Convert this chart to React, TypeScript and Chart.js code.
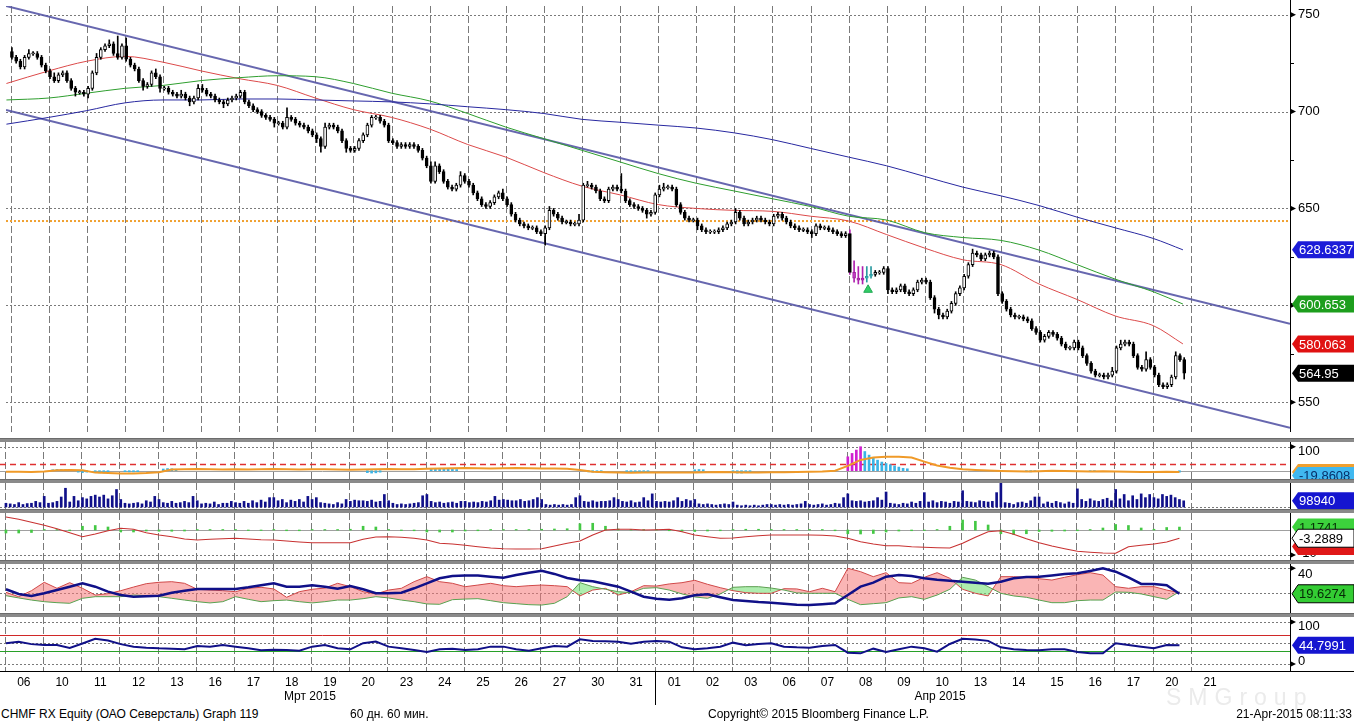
import React, { useEffect, useRef } from "react";
import { Chart, registerables } from "chart.js";
Chart.register(...registerables);

const W = 1354;
const H = 723;
const AXIS_W = 64;
const FONT = "'Liberation Sans', Arial, sans-serif";

// ---------- time axis ----------
const dayLabels = ["06","10","11","12","13","16","17","18","19","20","23","24","25","26","27","30","31","01","02","03","06","07","08","09","10","13","14","15","16","17","20","21"];
const monthLabels = ["Мрт 2015", "Апр 2015"];
const monthLabelBars = [71.8, 220];
const monthBoundaryDay = 17;
const BARS_PER_DAY = 9;
const BAR_CENTER = 0.3;
const X_MIN = -1.1;
const X_MAX = 302.3;
const SAMPLE_STEP = 3;

// ---------- hourly candles (CHMF RX) ----------
const firstOpen = 731;
const closes = [
  728, 726, 723, 728, 730, 730, 728, 724, 721,
  718, 716, 719, 720, 716, 712, 710, 710, 709,
  712, 720, 728, 732, 734, 735, 730, 728, 734,
  727, 724, 722, 716, 713, 714, 720, 718, 712,
  712, 710, 709, 708, 709, 707, 705, 707, 712,
  711, 709, 708, 706, 705, 704, 706, 707, 708,
  710, 705, 703, 701, 700, 698, 697, 696, 694,
  694, 692, 697, 696, 694, 693, 692, 690, 688,
  686, 682, 692, 693, 692, 690, 685, 681, 680,
  681, 685, 688, 693, 697, 697, 695, 693, 685,
  684, 682, 683, 682, 683, 682, 680, 676, 672,
  664, 672, 669, 664, 661, 660, 662, 667, 664,
  662, 658, 655, 652, 651, 653, 656, 658, 655,
  652, 647, 644, 642, 641, 640, 640, 638, 637,
  640, 649, 647, 645, 643, 643, 642, 642, 644,
  662, 662, 661, 659, 655, 654, 660, 661, 660,
  659, 654, 652, 651, 650, 649, 647, 648, 657,
  660, 661, 661, 660, 652, 648, 645, 644, 644,
  641, 639, 638, 638, 638, 639, 640, 642, 643,
  648, 645, 642, 643, 644, 645, 644, 643, 642,
  646, 647, 645, 643, 641, 640, 639, 639, 638,
  637, 641, 640, 640, 639, 638, 637, 636, 637,
  617, 614, 613, 614, 615, 616, 617, 617, 619,
  608, 607, 608, 610, 607, 606, 608, 612, 613,
  612, 604, 598, 595, 594, 597, 601, 606, 609,
  615, 621, 627, 626, 624, 626, 627, 625, 606,
  602, 598, 595, 594, 594, 593, 592, 588, 586,
  582, 584, 586, 585, 583, 580, 578, 578, 581,
  578, 574, 570, 566, 564, 564, 563, 564, 566,
  578, 580, 581, 580, 574, 568, 567, 572, 568,
  564, 559, 558, 559, 563, 574, 572, 564.95,
];
const wickUp = [
  2,1,1,1,2,1,1,1,1, 1,2,1,1,1,1,1,1,1, 1,1,2,1,1,2,1,9,1, 4,1,1,1,1,1,1,2,1,
  1,1,1,1,2,1,1,1,2, 2,1,1,1,1,1,1,1,1, 1,1,1,1,1,1,1,1,1, 1,1,5,1,1,1,1,1,1,
  1,1,2,1,1,1,1,1,1, 1,1,1,1,1,1,1,1,1, 1,1,1,1,1,1,1,1,1, 2,2,1,1,1,1,1,2,1,
  1,1,1,1,1,1,1,1,2, 1,1,1,1,1,1,1,1,1, 1,2,1,1,1,1,1,1,3, 1,2,1,1,1,1,1,1,1,
  8,1,1,1,1,1,1,1,1, 2,2,1,1,1,1,1,1,1, 1,1,1,1,1,1,1,1,1, 2,1,1,1,1,1,1,1,1,
  1,1,1,1,1,1,1,1,1, 1,1,1,1,1,1,1,1,1, 2,6,6,6,5,4,1,1,1, 1,1,1,1,1,1,1,1,1,
  1,1,1,1,1,1,1,1,1, 1,1,2,1,1,1,1,1,1, 1,1,1,1,1,1,1,1,1, 1,1,1,1,1,1,1,1,1,
  1,1,1,1,1,1,1,1,2, 1,2,1,1,1,1,1,4,1, 1,1,1,1,1,2,1,1,
];
const wickDn = [
  1,1,1,1,1,1,1,1,1, 1,1,1,1,1,1,2,1,1, 2,1,1,1,1,1,1,1,1, 1,1,1,1,2,1,1,1,2,
  1,1,1,1,1,1,2,1,1, 1,1,1,1,1,2,1,1,1, 1,1,1,1,1,1,1,1,2, 1,1,1,1,1,1,1,1,1,
  2,3,1,1,1,1,1,2,1, 1,1,1,1,1,1,1,1,1, 1,1,1,1,1,1,1,1,1, 1,1,1,1,1,1,1,1,1,
  1,1,1,1,1,1,1,1,1, 1,1,1,1,1,1,1,1,1, 6,1,1,1,1,1,1,1,1, 1,1,1,1,1,1,1,1,1,
  1,1,1,1,1,1,2,1,1, 1,1,1,1,1,1,1,1,1, 2,1,1,1,1,1,1,1,1, 1,1,1,1,1,1,1,1,1,
  1,1,1,1,1,1,1,1,1, 2,1,1,1,1,1,1,1,1, 1,2,2,2,2,1,1,1,1, 2,1,1,1,1,1,1,1,1,
  1,1,2,2,1,1,1,1,1, 1,1,1,1,1,1,1,1,1, 1,1,1,1,1,1,1,1,1, 1,1,1,1,1,1,1,1,1,
  1,1,1,1,1,1,1,1,1, 1,1,1,1,1,1,1,1,1, 1,1,1,1,1,1,1,3,
];
const magentaBars = [199, 200, 201];
const cyanBars = [202, 203];
const patternWickBar = 198;
const signalMarkerBar = 202.6;
const signalMarkerPrice = 608;

// ---------- overlays ----------
const maX = [-1, 9, 18, 27, 36, 45, 54, 63, 72, 81, 90, 99, 108, 117, 126, 135, 144, 153, 162, 171, 180, 189, 198, 207, 216, 225, 234, 243, 252, 261, 270, 277];
const maRed = [714.5, 721, 726, 728.5, 725.5, 721, 717, 713.5, 707, 701, 697, 691, 683, 676.5, 668.5, 661.5, 657, 652, 650, 649, 648.5, 646, 643.5, 636.5, 629.5, 623.5, 621, 611, 603, 594.5, 589.5, 580.063];
const maGreen = [706, 707, 709.5, 712, 713.5, 716, 717.5, 718.5, 718, 714.5, 709.5, 705.5, 699, 692, 686, 680, 674, 668, 663, 659, 655, 651, 646, 644, 637.5, 635, 633.5, 628.5, 621, 613.5, 607, 600.653];
const maBlue = [693.5, 697, 700.5, 704.5, 706, 706, 706.5, 706.5, 706, 705.5, 705, 704, 702.5, 701, 699, 696, 694.5, 693, 691.5, 689, 685.5, 681, 676.5, 672, 666.5, 661, 656.5, 651.5, 645.5, 640, 634.5, 628.6337];
const channelX = [X_MIN, X_MAX];
const channelUpper = [754.5, 590.5];
const channelLower = [700.8, 536.8];
const resistanceLevel = 643.5;
const priceTicks = [750, 700, 650, 600, 550];
const priceMinorTicks = [725, 675, 625, 575];

// ---------- oscillator panel ----------
const p2Osc = [-4, -4, -5, -3, 2, 3, 2, -8, -10, -12, -12, -10, -6,
  5, 6, 7, 6, 5, 6, 5, 6, 7, 6, 5, 6, 6, 5, 4, 5, 6, 7, 6, 6, 8, 9,
  10, 11, 10, 9, 10, 11, 10, 9, 9, 8,
  3, -4, -6, -8, -9, -8, -8, -7, -8, -7, -6, -5, -6, -7, -7, -6, -6, -5, -4, -3, 0,
  20, 45, 55, 58, 58, 55, 38,
  22, 12, 6, 3, 1, -1, -2, -3, -2, 0, -1, -2, -3, -2, -3, -4, -5, -5, -4, -5];
const p2HistBars = [11,12,13,14, 17,18,19, 21,22,23,24, 28,29,30,31, 37,38,39,40, 85,86,87,88, 100,101,102,103,104,105,106, 137,138,139,140, 146,147,148,149,150,151, 162,163,164, 171,172,173,174,175, 198,199,200,201,202,203,204,205,206,207,208,209,210,211,212, 240,241,242, 255,256, 276];
const p2HistVals = [4,5,5,4, -6,-8,-6, -7,-9,-9,-7, -4,-5,-5,-4, 7,9,8,6, -8,-10,-9,-6, 8,10,10,9,7,6,5, -5,-6,-6,-4, -5,-6,-6,-5,-4,-5, 4,5,4, -8,-10,-10,-8,-6, 58,72,86,100,80,65,52,44,36,30,25,20,15,10,8, -4,-5,-4, -3,-4, -6];
const p2MagentaBars = [198, 199, 200, 201];

// ---------- volume (thousands) ----------
const volumes = [
  60,50,40,70,40,55,60,90,70, 170,60,70,90,160,300,80,170,100, 150,130,170,190,160,190,130,180,280,
  120,60,50,60,70,50,100,80,170, 120,70,60,90,60,70,90,70,170, 100,50,60,50,80,40,60,60,90,
  70,60,90,60,100,70,110,80,150, 150,100,120,70,110,90,120,80,170, 120,150,70,60,50,40,70,50,120,
  90,110,100,100,90,110,80,90,200, 100,60,40,50,40,50,60,70,180, 200,90,70,80,60,70,80,60,90,
  90,70,80,70,90,80,100,170,110, 120,110,100,100,120,90,100,120,150, 120,40,30,40,30,40,30,40,150,
  180,90,80,100,80,90,90,100,150, 120,90,80,100,70,80,150,100,210, 90,80,90,80,100,150,90,120,100,
  120,50,40,50,40,30,40,50,40, 80,30,20,30,20,30,20,30,40, 40,30,40,30,40,30,40,50,90,
  40,30,40,50,30,40,60,50,150, 210,100,90,100,80,90,100,150,110, 240,60,50,40,60,50,80,60,90,
  230,80,100,70,90,80,60,90,80, 260,90,80,70,100,90,80,90,230, 400,70,60,40,70,80,60,100,160,
  160,50,80,60,90,70,50,80,60, 290,120,90,130,100,90,120,140,100, 280,130,200,100,180,120,210,150,200,
  150,130,200,170,190,150,120,98.94,
];

// ---------- MACD ----------
const macdLine = [5.2, 4.3, 3.1, 1.9, 0.5, -1.1, -2.7, -1.6, -0.3, 0.7, 0.3, -1.1, -2, -2.7, -3.6, -4, -3.7, -3.5, -3.3, -3.6, -3.9, -4, -4.4, -4.8, -5.1, -5.1, -5.1, -5.1, -3.7, -2.8, -2.7, -2.9, -3.3, -4, -5.3,
  -5.6, -6.1, -6.7, -7.2, -7.5, -7.6, -7.6, -7.5, -6.4, -5.3, -4.4, -2, 0, 0.3, 0.3, 0, 0.1, 0.3, -0.7, -2, -2.7, -3.3, -3.2, -2.7, -2.3, -2, -2, -2, -2, -2.1, -2.4, -3.3, -4.7, -5.6, -6.3,
  -6.3, -6.7, -6.9, -7.1, -7.2, -5.3, -2.9, -0.7, -0.3, -1.7, -3.5, -5.1, -6.4, -7.5, -8.5, -8.9, -9.2, -9.3, -6.7, -6.1, -5.6, -4.8, -3.29];
const macdHist = [-1.2, -1.2, -1, 0.2, 0.2, -0.3, 1.5, 1.8, 1.2, -0.8, -0.8, -0.4, -0.5, -0.5, -0.4, 0.2, 0.2, 0.2, 0.2, -0.2, -0.2, 0.2, -0.3, -0.3, 0.2, 0.2, 0.2, 0.3, 1.5, 1.2, 0.2, -0.2, -0.3, -0.8, -0.8,
  -0.8, -0.4, -0.3, 0.2, 0.2, 0.2, 0.2, 0.3, 0.4, 0.5, 2.5, 2.7, 1.5, 0.4, 0.2, 0.2, 0.2, -0.3, -0.5, -0.6, -0.4, -0.3, 0.2, 0.3, 0.3, 0.2, 0.2, 0.2, 0.2, 0.2, -0.3, -1.5, -1.6, -1.4, -0.8,
  -0.4, -0.3, -0.2, 0.2, 1.5, 4, 3.5, 2, -1.5, -1.8, -1.5, -0.6, -0.5, -0.4, -0.3, 0.2, 0.8, 2.2, 1.8, 0.8, 0.3, 1, 1.1741];

// ---------- DMI / ADX ----------
const diPlus = [20.8, 17.3, 22.1, 28.8, 24, 28.5, 24, 18.6, 19.7, 22.1, 25, 27.7, 28.8, 29.3, 28, 23.2, 22.6, 22.1, 21.3, 24, 24.8, 23.5, 16.8, 21.3, 23.2, 24.2, 28, 25.3, 21.3, 19.5, 22.6, 24, 29.3, 33.3, 29.3,
  28, 25.3, 26.6, 28, 26.1, 25.3, 26.1, 26.6, 26.1, 25.3, 17.9, 22.6, 24, 18.6, 21.3, 26.1, 25.8, 27.5, 28.5, 30.4, 27.2, 24.5, 22.1, 20.5, 20, 20, 23.7, 23.5, 21.3, 24, 21.3, 40, 37.3, 33.3, 36.5,
  28.5, 28, 32.8, 36.5, 32, 23.2, 20, 17.9, 33.3, 33.3, 32.8, 31.7, 30.6, 32.8, 34.9, 36.5, 34.6, 25.3, 24, 25.3, 25.3, 22.6, 20.5];
const diMinus = [18.1, 16.3, 14.6, 13.3, 12.5, 12, 16, 17.3, 17.3, 17.3, 18.6, 18.1, 17.3, 16, 14.6, 13.3, 12.3, 13.3, 17.3, 15.2, 13.3, 14.1, 14.6, 13.3, 12.3, 13.3, 14.6, 14.6, 15.7, 17.3, 16.3, 14.6, 13.3, 11.5, 11.2,
  14.9, 15.4, 15.7, 14.1, 12.5, 11.7, 10.9, 10.6, 12, 17.3, 28.5, 25.3, 23.2, 21.3, 20.5, 24, 24.5, 22.6, 19.5, 17.1, 16, 19.5, 24.8, 25.3, 25.3, 24.2, 22.6, 20.3, 20, 20, 20, 15.2, 10.9, 11.7, 12.5,
  16.3, 17.3, 15.2, 18.6, 23.2, 32.8, 30.6, 25.3, 20, 17.9, 16.8, 14.6, 12.5, 12.5, 14.1, 14.6, 14.6, 21, 20.8, 19.5, 17.3, 15.2, 21.3];
const adx = [23.2, 19.5, 17.9, 20, 22.6, 25.3, 28, 25.3, 21.3, 18.6, 17.3, 17.6, 18.1, 20.5, 22.1, 23.5, 23.5, 23.5, 23.5, 24.8, 26.4, 28, 25.3, 25.3, 26.4, 25.3, 23.7, 25.8, 23.2, 20, 20, 20.5, 24, 28, 32,
  33.8, 34.3, 34.3, 33.3, 32.5, 34.6, 36.5, 38.1, 35.5, 32.3, 30.4, 29.6, 27.5, 25.3, 21.3, 17.3, 15.7, 14.9, 16, 18.4, 19.2, 16.8, 14.6, 13.8, 13, 12.5, 11.7, 10.9, 10.6, 11.2, 12, 18.6, 25.3, 28.5, 33.3,
  34.6, 33.8, 32, 30.9, 30.1, 29.3, 28.5, 27.7, 29.3, 32, 33, 33.3, 34.3, 35.5, 36, 37.9, 40, 37.3, 32.8, 27.5, 27.5, 26.4, 19.6274];

// ---------- RSI ----------
const rsi = [49.6, 52.8, 47.3, 45.2, 45.2, 38.1, 48.8, 59.9, 55.9, 47.3, 41.3, 38.9, 37.3, 36.5, 34.9, 42.9, 41.3, 45.2, 41.3, 37.3, 32.5, 34.1, 33.3, 31.7, 41.3, 45.2, 37.3, 34.9, 49.6, 53.6, 41.3, 37.3, 33.3, 28.6, 34.9,
  36.5, 33.3, 34.9, 41.3, 41.3, 34.9, 31.7, 37.3, 42.9, 41.3, 58.7, 54.8, 54, 53.2, 48.4, 53.2, 54.8, 53.2, 39.7, 34.9, 37.3, 41.3, 50.8, 44.4, 47.6, 49.2, 41.3, 39.7, 38.9, 42.9, 45.2, 27, 25.4, 36.5, 28.6,
  34.9, 41.3, 37.3, 29.4, 47.6, 59.9, 58.3, 55.1, 39.7, 34.9, 33.3, 32.5, 34.9, 34.9, 28.6, 25.4, 25.4, 49.2, 45.2, 41.3, 37.3, 45.2, 44.7991];

// ---------- helpers ----------
const opens = closes.map((_, i) => (i === 0 ? firstOpen : closes[i - 1]));
const barX = (i: number) => i + BAR_CENTER;
const sampleSeries = (vals: number[]) => vals.map((y, k) => ({ x: k * SAMPLE_STEP + BAR_CENTER, y }));

type HLine = { v: number; color: string; dash?: number[]; width?: number };
type TickSpec = { v: number; label: string; dy?: number };
type Tag = { v: number; text: string; bg: string; fg: string; border?: string; h?: number };
type Spec = { hlines: HLine[]; ticks: TickSpec[]; minor?: number[]; tags: Tag[]; timeAxis?: boolean };

const DOT = [2, 2];
const GRID = "#7a7a7a";

function decorPlugin(spec: Spec) {
  return {
    id: "decor",
    beforeDatasetsDraw(chart: any) {
      const { ctx, chartArea: a, scales } = chart;
      const x = scales.x, y = scales.y;
      ctx.save();
      ctx.beginPath();
      ctx.rect(a.left, a.top, a.right - a.left, a.bottom - a.top);
      ctx.clip();
      ctx.lineWidth = 1;
      ctx.strokeStyle = GRID;
      ctx.setLineDash([7, 3]);
      for (let d = 0; d < dayLabels.length; d++) {
        const px = Math.round(x.getPixelForValue(d * BARS_PER_DAY)) + 0.5;
        ctx.beginPath();
        ctx.moveTo(px, a.top);
        ctx.lineTo(px, a.bottom);
        ctx.stroke();
      }
      for (const h of spec.hlines) {
        const py = Math.round(y.getPixelForValue(h.v)) + 0.5;
        ctx.strokeStyle = h.color;
        ctx.lineWidth = h.width ?? 1;
        ctx.setLineDash(h.dash ?? []);
        ctx.beginPath();
        ctx.moveTo(a.left, py);
        ctx.lineTo(a.right, py);
        ctx.stroke();
      }
      ctx.restore();
    },
    afterDraw(chart: any) {
      const { ctx, chartArea: a, scales } = chart;
      const x = scales.x, y = scales.y;
      const R = a.right;
      ctx.save();
      ctx.setLineDash([]);
      ctx.strokeStyle = "#000";
      ctx.lineWidth = 1;
      ctx.beginPath();
      ctx.moveTo(R + 0.5, 0);
      ctx.lineTo(R + 0.5, a.bottom);
      ctx.stroke();
      for (const v of spec.minor ?? []) {
        const py = Math.round(y.getPixelForValue(v)) + 0.5;
        ctx.beginPath();
        ctx.moveTo(R, py);
        ctx.lineTo(R + 4, py);
        ctx.stroke();
      }
      ctx.font = `13px ${FONT}`;
      ctx.textBaseline = "middle";
      ctx.textAlign = "left";
      ctx.fillStyle = "#000";
      for (const t of spec.ticks) {
        const py = y.getPixelForValue(t.v);
        ctx.beginPath();
        ctx.moveTo(R, py - 3);
        ctx.lineTo(R + 6, py);
        ctx.lineTo(R, py + 3);
        ctx.closePath();
        ctx.fill();
        ctx.fillText(t.label, R + 8, py + (t.dy ?? 0));
      }
      for (const g of spec.tags) {
        const py = y.getPixelForValue(g.v);
        const hh = (g.h ?? 17) / 2;
        ctx.beginPath();
        ctx.moveTo(R + 2, py);
        ctx.lineTo(R + 8, py - hh);
        ctx.lineTo(chart.width, py - hh);
        ctx.lineTo(chart.width, py + hh);
        ctx.lineTo(R + 8, py + hh);
        ctx.closePath();
        ctx.fillStyle = g.bg;
        ctx.fill();
        if (g.border) {
          ctx.strokeStyle = g.border;
          ctx.lineWidth = 1;
          ctx.stroke();
        }
        ctx.fillStyle = g.fg;
        ctx.fillText(g.text, R + 9, py + 1);
      }
      if (spec.timeAxis) {
        ctx.strokeStyle = "#000";
        ctx.beginPath();
        ctx.moveTo(0, a.bottom + 0.5);
        ctx.lineTo(chart.width, a.bottom + 0.5);
        ctx.stroke();
        const bx = Math.round(x.getPixelForValue(monthBoundaryDay * BARS_PER_DAY)) + 0.5;
        ctx.beginPath();
        ctx.moveTo(bx, a.bottom);
        ctx.lineTo(bx, chart.height);
        ctx.stroke();
        ctx.font = `12px ${FONT}`;
        ctx.textAlign = "center";
        ctx.fillStyle = "#000";
        monthLabels.forEach((m, i) => ctx.fillText(m, x.getPixelForValue(monthLabelBars[i]), a.bottom + 26));
      }
      ctx.restore();
    },
  };
}

function baseOptions(yMin: number, yMax: number, timeAxis = false): any {
  const x: any = {
    type: "linear", min: X_MIN, max: X_MAX, offset: false, display: timeAxis,
    grid: { display: false, offset: false, drawTicks: false },
    border: { display: false },
  };
  if (timeAxis) {
    x.position = "bottom";
    x.afterBuildTicks = (s: any) => { s.ticks = dayLabels.map((_, d) => ({ value: d * BARS_PER_DAY + BARS_PER_DAY / 2 })); };
    x.afterFit = (s: any) => { s.height = 34; };
    x.ticks = { autoSkip: false, maxRotation: 0, minRotation: 0, padding: 4, color: "#000", font: { family: FONT, size: 12 }, callback: (_v: any, i: number) => dayLabels[i] };
  }
  return {
    responsive: false,
    animation: false,
    events: [],
    layout: { padding: { left: 0, right: AXIS_W, top: 0, bottom: 0 } },
    plugins: { legend: { display: false }, tooltip: { enabled: false } },
    scales: { x, y: { type: "linear", min: yMin, max: yMax, display: false } },
  };
}

function buildMain(): any {
  const wickColor = (i: number) => (magentaBars.includes(i) || i === patternWickBar ? "#b020b0" : cyanBars.includes(i) ? "#2a9aa0" : "#000");
  const bodyFill = (i: number) => (magentaBars.includes(i) ? "#c43cc4" : cyanBars.includes(i) ? "#48c8cc" : closes[i] >= opens[i] ? "#fff" : "#000");
  const bodyBorder = (i: number) => (magentaBars.includes(i) ? "#a020a0" : cyanBars.includes(i) ? "#2a9aa0" : "#000");
  const wickData = closes.map((c, i) => ({ x: barX(i), y: [Math.min(opens[i], c) - wickDn[i], Math.max(opens[i], c) + wickUp[i]] }));
  const bodyData = closes.map((c, i) => {
    const lo = Math.min(opens[i], c), hi = Math.max(opens[i], c);
    return { x: barX(i), y: hi - lo < 0.6 ? [lo - 0.3, hi + 0.3] : [lo, hi] };
  });
  const line = (xs: number[], ys: number[], color: string, width: number, order: number, extra: any = {}) => ({
    type: "line", data: xs.map((x, i) => ({ x, y: ys[i] })), borderColor: color, borderWidth: width,
    pointRadius: 0, order, ...extra,
  });
  return {
    type: "bar",
    data: {
      datasets: [
        line(channelX, [resistanceLevel, resistanceLevel], "#f0a030", 2, 9, { borderDash: [2, 2] }),
        line(channelX, channelUpper, "rgba(86,86,166,0.9)", 2, 8),
        line(channelX, channelLower, "rgba(86,86,166,0.9)", 2, 8),
        line(maX, maBlue, "#2828a0", 1, 6, { cubicInterpolationMode: "monotone" }),
        line(maX, maGreen, "#2e9e2e", 1, 6, { cubicInterpolationMode: "monotone" }),
        line(maX, maRed, "#dc4a4a", 1, 6, { cubicInterpolationMode: "monotone" }),
        { type: "bar", data: wickData, backgroundColor: closes.map((_, i) => wickColor(i)), barThickness: 1, grouped: false, order: 2 },
        { type: "bar", data: bodyData, backgroundColor: closes.map((_, i) => bodyFill(i)), borderColor: closes.map((_, i) => bodyBorder(i)), borderWidth: 1, borderSkipped: false, barThickness: 3, grouped: false, order: 1 },
        { type: "line", data: [{ x: signalMarkerBar, y: signalMarkerPrice }], showLine: false, pointStyle: "triangle", pointRadius: 5, backgroundColor: "#33cc66", borderColor: "#22aa55", order: 0 },
      ],
    },
    options: baseOptions(534.6, 754.5),
    plugins: [decorPlugin({
      hlines: priceTicks.map((v) => ({ v, color: GRID, dash: DOT })),
      ticks: priceTicks.map((v) => ({ v, label: String(v) })),
      minor: priceMinorTicks,
      tags: [
        { v: maBlue[maBlue.length - 1], text: "628.6337", bg: "#1c1cd8", fg: "#fff" },
        { v: maGreen[maGreen.length - 1], text: "600.653", bg: "#1d9e1d", fg: "#fff" },
        { v: maRed[maRed.length - 1], text: "580.063", bg: "#e01212", fg: "#fff" },
        { v: closes[closes.length - 1], text: "564.95", bg: "#000", fg: "#fff" },
      ],
    })],
  };
}

function buildOsc(): any {
  return {
    type: "bar",
    data: {
      datasets: [
        { type: "line", data: sampleSeries(p2Osc), borderColor: "#f09a28", borderWidth: 2, pointRadius: 0, order: 1 },
        { type: "bar", data: p2HistBars.map((b, i) => ({ x: barX(b), y: p2HistVals[i] })), backgroundColor: p2HistBars.map((b) => (p2MagentaBars.includes(b) ? "#d020d0" : "#3ab4e6")), barThickness: 2, grouped: false, order: 2 },
      ],
    },
    options: baseOptions(-34.6, 119.6),
    plugins: [decorPlugin({
      hlines: [
        { v: 100, color: GRID, dash: DOT },
        { v: 26.7, color: "#e03030", dash: [6, 4], width: 1.5 },
        { v: 0, color: "#a0a0a0" },
      ],
      ticks: [{ v: 100, label: "100", dy: 5 }],
      tags: [
        { v: p2Osc[p2Osc.length - 1], text: "", bg: "#f0a030", fg: "#000", h: 16 },
        { v: -19.8608, text: "-19.8608", bg: "#40b8f0", fg: "#06306a", h: 17 },
      ],
    })],
  };
}

function buildVolume(): any {
  return {
    type: "bar",
    data: { datasets: [{ data: volumes.map((v, i) => ({ x: barX(i), y: v })), backgroundColor: "#10108a", barThickness: 2, grouped: false }] },
    options: baseOptions(-32, 384),
    plugins: [decorPlugin({
      hlines: [{ v: 0, color: GRID, dash: DOT }],
      ticks: [],
      tags: [{ v: volumes[volumes.length - 1], text: "98940", bg: "#1515d0", fg: "#fff" }],
    })],
  };
}

function buildMacd(): any {
  return {
    type: "bar",
    data: {
      datasets: [
        { type: "line", data: sampleSeries(macdLine), borderColor: "#c83232", borderWidth: 1.2, pointRadius: 0, order: 1 },
        { type: "bar", data: sampleSeries(macdHist), backgroundColor: "#44c844", barThickness: 2, grouped: false, order: 2 },
      ],
    },
    options: baseOptions(-12, 6.8),
    plugins: [decorPlugin({
      hlines: [{ v: 0, color: "#a0a0a0" }, { v: -10, color: GRID, dash: DOT }],
      ticks: [{ v: -10, label: "-10", dy: -2 }],
      tags: [
        { v: macdHist[macdHist.length - 1], text: "1.1741", bg: "#3cd23c", fg: "#063306" },
        { v: -6.6, text: "", bg: "#e01818", fg: "#fff" },
        { v: macdLine[macdLine.length - 1], text: "-3.2889", bg: "#fff", fg: "#000", border: "#000", h: 18 },
      ],
    })],
  };
}

function buildDmi(): any {
  return {
    type: "line",
    data: {
      datasets: [
        { data: sampleSeries(diPlus), borderColor: "#d04848", borderWidth: 1, pointRadius: 0, fill: { target: 1, above: "rgba(245,120,120,0.55)", below: "rgba(120,225,120,0.6)" }, order: 3 },
        { data: sampleSeries(diMinus), borderColor: "#5aa050", borderWidth: 1, pointRadius: 0, order: 2 },
        { data: sampleSeries(adx), borderColor: "#101088", borderWidth: 2.5, pointRadius: 0, order: 1 },
      ],
    },
    options: baseOptions(4.24, 43.44),
    plugins: [decorPlugin({
      hlines: [{ v: 40, color: GRID, dash: DOT }, { v: 20, color: GRID, dash: DOT }],
      ticks: [{ v: 40, label: "40", dy: 6 }],
      tags: [{ v: adx[adx.length - 1], text: "19.6274", bg: "#33cc33", fg: "#062806", border: "#000", h: 18 }],
    })],
  };
}

function buildRsi(): any {
  return {
    type: "line",
    data: { datasets: [{ data: sampleSeries(rsi), borderColor: "#101088", borderWidth: 2, pointRadius: 0 }] },
    options: baseOptions(-16.7, 111.9, true),
    plugins: [decorPlugin({
      hlines: [
        { v: 100, color: GRID, dash: DOT },
        { v: 70, color: "#d02828" },
        { v: 50, color: GRID, dash: DOT },
        { v: 30, color: "#28a028" },
        { v: 0, color: GRID, dash: DOT },
      ],
      ticks: [{ v: 100, label: "100", dy: 4 }, { v: 0, label: "0", dy: -3 }],
      tags: [{ v: rsi[rsi.length - 1], text: "44.7991", bg: "#1515d0", fg: "#fff" }],
      timeAxis: true,
    })],
  };
}

function Panel({ top, height, build }: { top: number; height: number; build: () => any }) {
  const ref = useRef<HTMLCanvasElement>(null);
  useEffect(() => {
    const chart = new Chart(ref.current as HTMLCanvasElement, build());
    return () => chart.destroy();
  }, []);
  return <canvas ref={ref} width={W} height={height} style={{ position: "absolute", left: 0, top, width: W, height, display: "block" }} />;
}

function Sep({ top }: { top: number }) {
  return <div style={{ position: "absolute", left: 0, top, width: W, height: 4, background: "#8a8a8a", borderTop: "1px solid #6c6c6c", boxSizing: "border-box" }} />;
}

const footerStyle: React.CSSProperties = { position: "absolute", top: 707, fontSize: 12, lineHeight: "14px", color: "#000", whiteSpace: "nowrap", fontFamily: FONT };

export default function App() {
  return (
    <div style={{ position: "absolute", left: 0, top: 0, width: W, height: H, background: "#fff", overflow: "hidden" }}>
      <Panel top={0} height={438} build={buildMain} />
      <Sep top={438} />
      <Panel top={442} height={37} build={buildOsc} />
      <Sep top={479} />
      <Panel top={483} height={26} build={buildVolume} />
      <Sep top={509} />
      <Panel top={513} height={47} build={buildMacd} />
      <Sep top={560} />
      <Panel top={564} height={49} build={buildDmi} />
      <Sep top={613} />
      <Panel top={617} height={88} build={buildRsi} />
      <div style={{ position: "absolute", left: 1166, top: 684, fontSize: 23, lineHeight: "26px", color: "#ebebeb", fontFamily: FONT, letterSpacing: 7, whiteSpace: "nowrap" }}>SMGroup</div>
      <div style={{ ...footerStyle, left: 1 }}>CHMF RX Equity (ОАО Северсталь) Graph 119</div>
      <div style={{ ...footerStyle, left: 350 }}>60 дн. 60 мин.</div>
      <div style={{ ...footerStyle, left: 708 }}>Copyright© 2015 Bloomberg Finance L.P.</div>
      <div style={{ ...footerStyle, right: 2 }}>21-Apr-2015 08:11:33</div>
    </div>
  );
}
